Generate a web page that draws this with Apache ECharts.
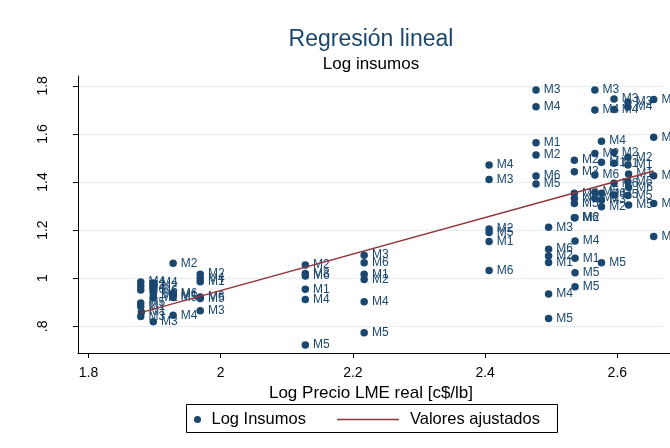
<!DOCTYPE html>
<html>
<head>
<meta charset="utf-8">
<script src="https://cdn.jsdelivr.net/npm/echarts@6/dist/echarts.min.js"></script>
<style>
  html, body { margin: 0; padding: 0; background: #fff; }
  #chart { width: 670px; height: 448px; }
</style>
</head>
<body>
<div id="chart"></div>
<script>
// Log real LME price (x), log input use (y) and mine label for each observation
const logPrecio = [
  1.879, 1.879, 1.879, 1.879, 1.879, 1.880, 1.879,
  1.898, 1.898, 1.898, 1.898, 1.898, 1.898,
  1.928, 1.928, 1.928, 1.928, 1.928,
  1.969, 1.969, 1.969, 1.969, 1.969, 1.969,
  2.128, 2.128, 2.128, 2.128, 2.128, 2.128,
  2.217, 2.217, 2.217, 2.217, 2.217, 2.217,
  2.406, 2.406, 2.406, 2.406, 2.406, 2.406,
  2.477, 2.477, 2.477, 2.477, 2.477, 2.477,
  2.496, 2.496, 2.496, 2.496, 2.496, 2.496,
  2.535, 2.535, 2.535, 2.535, 2.535, 2.535,
  2.536, 2.536, 2.536, 2.536, 2.536,
  2.566, 2.566, 2.566, 2.566, 2.566, 2.566,
  2.576, 2.576, 2.576, 2.576, 2.576, 2.576,
  2.595, 2.595, 2.595, 2.595, 2.595, 2.595,
  2.616, 2.616, 2.616, 2.616, 2.616, 2.616,
  2.617, 2.617, 2.617,
  2.655, 2.655, 2.655, 2.655, 2.655
];
const logInsumos = [
  0.984, 0.968, 0.951, 0.897, 0.882, 0.859, 0.841,
  0.980, 0.965, 0.947, 0.932, 0.918, 0.819,
  1.062, 0.937, 0.929, 0.920, 0.846,
  1.017, 1.000, 0.985, 0.922, 0.916, 0.865,
  1.055, 1.020, 1.009, 0.954, 0.912, 0.722,
  1.096, 1.064, 1.016, 0.995, 0.902, 0.773,
  1.471, 1.411, 1.205, 1.190, 1.153, 1.032,
  1.783, 1.713, 1.563, 1.512, 1.425, 1.392,
  1.212, 1.121, 1.092, 1.065, 0.934, 0.833,
  1.491, 1.443, 1.353, 1.332, 1.311, 1.252,
  1.252, 1.155, 1.083, 1.023, 0.965,
  1.783, 1.700, 1.519, 1.429, 1.358, 1.333,
  1.570, 1.482, 1.353, 1.325, 1.297, 1.064,
  1.745, 1.702, 1.523, 1.478, 1.395, 1.346,
  1.733, 1.712, 1.503, 1.471, 1.401, 1.344,
  1.433, 1.378, 1.304,
  1.743, 1.586, 1.426, 1.311, 1.173
];
const mina = [
  'M4', 'M2', 'M6', 'M5', 'M1', 'M1', 'M3',
  'M4', 'M2', 'M6', 'M5', 'M1', 'M3',
  'M2', 'M6', 'M1', 'M5', 'M4',
  'M2', 'M4', 'M1', 'M6', 'M5', 'M3',
  'M2', 'M3', 'M6', 'M1', 'M4', 'M5',
  'M3', 'M6', 'M1', 'M2', 'M4', 'M5',
  'M4', 'M3', 'M2', 'M5', 'M1', 'M6',
  'M3', 'M4', 'M1', 'M2', 'M6', 'M5',
  'M3', 'M6', 'M2', 'M1', 'M4', 'M5',
  'M2', 'M3', 'M4', 'M1', 'M5', 'M6',
  'M2', 'M4', 'M1', 'M5', 'M5',
  'M3', 'M4', 'M2', 'M6', 'M5', 'M1',
  'M4', 'M1', 'M6', 'M3', 'M2', 'M5',
  'M3', 'M4', 'M2', 'M1', 'M6', 'M5',
  'M3', 'M4', 'M2', 'M1', 'M6', 'M5',
  'M1', 'M6', 'M5',
  'M3', 'M1', 'M6', 'M5', 'M2'
];

// Fitted values of the linear regression at the extreme prices
const ajusteX = [1.879, 2.655];
const ajusteY = [0.857, 1.446];

// Axis ticks and their printed labels
const xTicks = [1.8, 2, 2.2, 2.4, 2.6];
const xTickLabels = ['1.8', '2', '2.2', '2.4', '2.6'];
const yTicks = [0.8, 1, 1.2, 1.4, 1.6, 1.8];
const yTickLabels = ['.8', '1', '1.2', '1.4', '1.6', '1.8'];

const FONT = "'Liberation Sans', Arial, sans-serif";
const NAVY = '#1a476f';
const MAROON = '#90353b';

function tickLabel(ticks, labels) {
  return function (v) {
    for (let i = 0; i < ticks.length; i++) {
      if (Math.abs(ticks[i] - v) < 1e-6) return labels[i];
    }
    return '';
  };
}

const chart = echarts.init(document.getElementById('chart'), null, { renderer: 'canvas' });

chart.setOption({
  backgroundColor: '#fff',
  animation: false,
  grid: {
    left: 78, top: 76, width: 586, height: 277,
    containLabel: false,
    outerBoundsMode: 'none'
  },
  xAxis: {
    type: 'value',
    min: 1.7841,
    max: 2.6706,
    axisLine: { show: true, onZero: false, lineStyle: { color: '#000', width: 1 } },
    axisTick: { show: true, length: 5, customValues: xTicks, lineStyle: { color: '#000', width: 1 } },
    axisLabel: {
      customValues: xTicks,
      formatter: tickLabel(xTicks, xTickLabels),
      margin: 13, color: '#000', fontSize: 14, fontFamily: FONT
    },
    splitLine: { show: false },
    name: 'Log Precio LME real [c$/lb]',
    nameLocation: 'middle',
    nameGap: 27,
    nameTextStyle: { color: '#000', fontSize: 17, fontFamily: FONT }
  },
  yAxis: {
    type: 'value',
    min: 0.689,
    max: 1.841,
    axisLine: { show: true, onZero: false, lineStyle: { color: '#000', width: 1 } },
    axisTick: { show: true, length: 5, customValues: yTicks, lineStyle: { color: '#000', width: 1 } },
    axisLabel: {
      customValues: yTicks,
      formatter: tickLabel(yTicks, yTickLabels),
      rotate: 90,
      margin: 28, color: '#000', fontSize: 14, fontFamily: FONT
    },
    splitLine: { show: true, lineStyle: { color: '#e6eeef', width: 1 } }
  },
  legend: [
    {
      data: [{ name: 'Log Insumos', icon: 'circle' }],
      left: 194, top: 411, padding: 0,
      itemWidth: 18, itemHeight: 7,
      textStyle: { color: '#000', fontSize: 16.5, fontFamily: FONT }
    },
    {
      data: [{ name: 'Valores ajustados', icon: 'rect' }],
      left: 337, top: 411, padding: 0,
      itemWidth: 62, itemHeight: 1.5,
      textStyle: { color: '#000', fontSize: 16.5, fontFamily: FONT, padding: [0, 0, 0, 6] }
    }
  ],
  graphic: [
    // Title and subtitle, centred over the plot area
    {
      type: 'text', x: 371, y: 40, silent: true,
      style: {
        text: 'Regresión lineal', fill: NAVY, fontSize: 23, fontFamily: FONT,
        align: 'center', verticalAlign: 'middle'
      }
    },
    {
      type: 'text', x: 371, y: 64, silent: true,
      style: {
        text: 'Log insumos', fill: '#000', fontSize: 17, fontFamily: FONT,
        align: 'center', verticalAlign: 'middle'
      }
    },
    // Legend frame
    {
      type: 'rect', silent: true,
      shape: { x: 186.5, y: 404.5, width: 371, height: 28 },
      style: { fill: 'none', stroke: '#000', lineWidth: 1 }
    },
    // x axis line continues to the right border
    {
      type: 'line', silent: true,
      shape: { x1: 664, y1: 353.5, x2: 670, y2: 353.5 },
      style: { stroke: '#000', lineWidth: 1 }
    }
  ],
  series: [
    {
      name: 'Log Insumos',
      type: 'scatter',
      data: logPrecio.map((x, i) => [x, logInsumos[i], mina[i]]),
      symbol: 'circle',
      symbolSize: 7.5,
      itemStyle: { color: NAVY, opacity: 1 },
      label: {
        show: true,
        position: 'right',
        distance: 4,
        formatter: p => p.data[2],
        color: NAVY,
        fontSize: 12,
        fontFamily: FONT
      },
      z: 2
    },
    {
      name: 'Valores ajustados',
      type: 'line',
      color: MAROON,
      data: ajusteX.map((x, i) => [x, ajusteY[i]]),
      showSymbol: false,
      symbol: 'none',
      lineStyle: { color: MAROON, width: 1.5 },
      z: 5
    }
  ]
});
</script>
</body>
</html>
